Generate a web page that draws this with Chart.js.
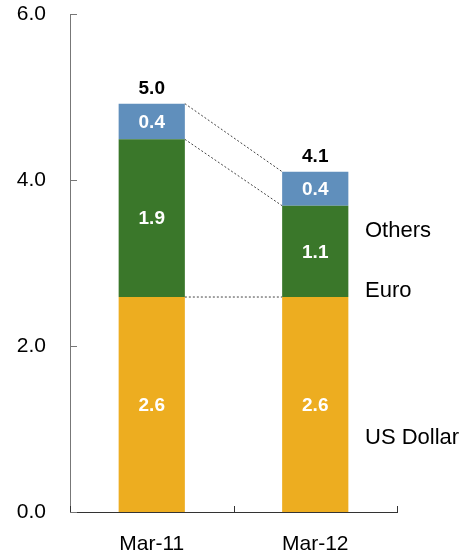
<!DOCTYPE html>
<html>
<head>
<meta charset="utf-8">
<script src="https://cdn.jsdelivr.net/npm/chart.js@4.4.1/dist/chart.umd.min.js"></script>
<style>
  html, body { margin: 0; padding: 0; background: #fff; }
  #wrap { width: 472px; height: 559px; }
</style>
</head>
<body>
<div id="wrap"><canvas id="chart" width="472" height="559"></canvas></div>
<script>
// data
const categories = ["Mar-11", "Mar-12"];
const usDollar = [2.59, 2.59];
const euro = [1.90, 1.10];
const others = [0.43, 0.41];
const totalLabels = ["5.0", "4.1"];
const seriesNames = ["US Dollar", "Euro", "Others"];
const yTicks = [0, 2, 4, 6];

const FONT = "'Liberation Sans', Arial, sans-serif";

// side labels, drawn next to the second bar
const sideLabelValues = [0.89, 2.66, 3.39];

const overlay = {
  id: "overlay",
  afterDatasetsDraw(chart) {
    const ctx = chart.ctx;
    const x = chart.scales.x;
    const y = chart.scales.y;
    const area = chart.chartArea;
    const metas = [0, 1, 2].map(i => chart.getDatasetMeta(i));

    ctx.save();

    // dotted connectors between bar tops
    ctx.strokeStyle = "#444";
    ctx.lineWidth = 1;
    ctx.setLineDash([2, 2]);
    metas.forEach(meta => {
      const a = meta.data[0], b = meta.data[1];
      ctx.beginPath();
      ctx.moveTo(a.x + a.width / 2, a.y);
      ctx.lineTo(b.x - b.width / 2, b.y);
      ctx.stroke();
    });
    ctx.setLineDash([]);

    // segment value labels
    ctx.fillStyle = "#fff";
    ctx.font = "bold 19px " + FONT;
    ctx.textAlign = "center";
    ctx.textBaseline = "middle";
    const series = [usDollar, euro, others];
    metas.forEach((meta, si) => {
      meta.data.forEach((bar, i) => {
        const mid = (bar.y + bar.base) / 2;
        ctx.fillText(series[si][i].toFixed(1), bar.x, mid + 1);
      });
    });

    // totals above bars
    ctx.fillStyle = "#000";
    ctx.font = "bold 19px " + FONT;
    metas[2].data.forEach((bar, i) => {
      ctx.fillText(totalLabels[i], bar.x, bar.y - 15);
    });

    // series names on the right
    ctx.font = "22px " + FONT;
    ctx.textAlign = "left";
    seriesNames.forEach((name, i) => {
      ctx.fillText(name, 365, y.getPixelForValue(sideLabelValues[i]));
    });

    // inward tick marks on the y axis
    ctx.strokeStyle = "#777";
    ctx.lineWidth = 1;
    yTicks.forEach(v => {
      const py = Math.round(y.getPixelForValue(v)) + 0.5;
      ctx.beginPath();
      ctx.moveTo(area.left, py);
      ctx.lineTo(area.left + 7, py);
      ctx.stroke();
    });

    // upward tick marks on the x axis at category boundaries
    ctx.strokeStyle = "#333";
    const half = (x.getPixelForValue(1) - x.getPixelForValue(0)) / 2;
    const bounds = [x.getPixelForValue(0) - half, x.getPixelForValue(0) + half, x.getPixelForValue(1) + half];
    bounds.forEach(px => {
      px = Math.round(px) + 0.5;
      ctx.beginPath();
      ctx.moveTo(px, area.bottom);
      ctx.lineTo(px, area.bottom - 6);
      ctx.stroke();
    });

    ctx.restore();
  }
};

new Chart(document.getElementById("chart"), {
  type: "bar",
  data: {
    labels: categories,
    datasets: [
      { label: seriesNames[0], data: usDollar, backgroundColor: "rgb(237,173,32)" },
      { label: seriesNames[1], data: euro, backgroundColor: "rgb(58,119,42)" },
      { label: seriesNames[2], data: others, backgroundColor: "rgb(96,143,188)" }
    ]
  },
  options: {
    responsive: false,
    animation: false,
    layout: { padding: { top: 14, right: 75, left: 0, bottom: 0 } },
    datasets: { bar: { categoryPercentage: 1.0, barPercentage: 0.405 } },
    plugins: {
      legend: { display: false },
      tooltip: { enabled: false }
    },
    scales: {
      x: {
        stacked: true,
        grid: { display: false, drawTicks: false },
        border: { display: true, color: "#333", width: 1 },
        ticks: { color: "#000", font: { family: FONT, size: 21 }, padding: 20 },
        afterFit(scale) { scale.height = 47; }
      },
      y: {
        stacked: true,
        min: 0,
        max: 6,
        afterBuildTicks(scale) { scale.ticks = yTicks.map(v => ({ value: v })); },
        grid: { display: false, drawTicks: false },
        border: { display: true, color: "#777", width: 1 },
        ticks: {
          color: "#000",
          font: { family: FONT, size: 21 },
          padding: 24,
          callback: v => v.toFixed(1)
        },
        afterFit(scale) {
          scale.width = 70;
          scale.paddingTop = 0;
          scale.paddingBottom = 0;
        }
      }
    }
  },
  plugins: [overlay]
});
</script>
</body>
</html>
